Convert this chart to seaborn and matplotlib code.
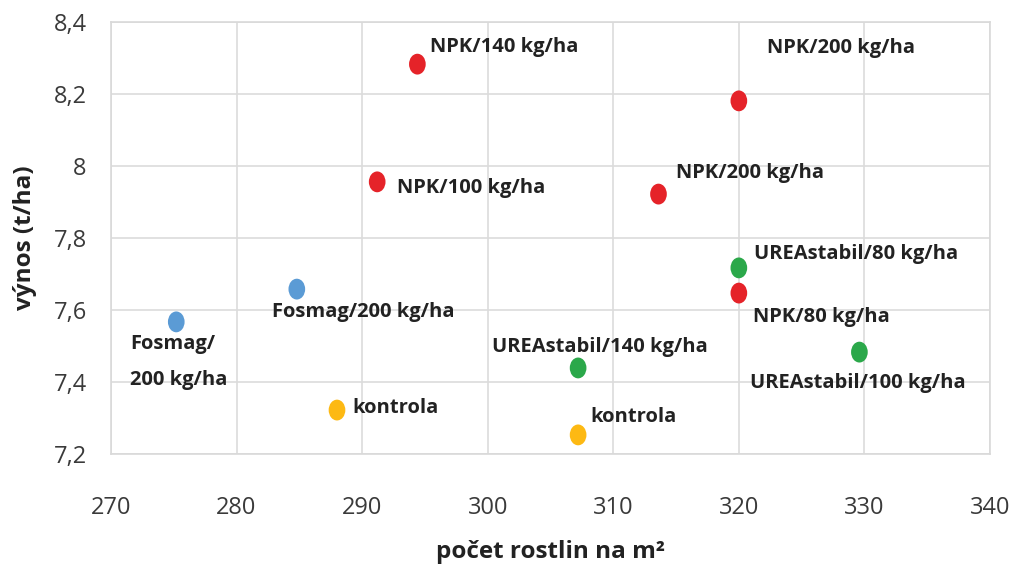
import matplotlib
matplotlib.use("Agg")
import matplotlib.pyplot as plt
from matplotlib.path import Path
from matplotlib.transforms import Affine2D
import numpy as np
import pandas as pd
import seaborn as sns

# ---- data ----
plants = [275.2, 284.8, 288.0, 307.2, 291.2, 294.4, 313.6, 320.0, 320.0, 320.0, 307.2, 329.6]
yields = [7.567, 7.658, 7.322, 7.253, 7.956, 8.283, 7.922, 8.181, 7.647, 7.717, 7.439, 7.483]
groups = ["Fosmag", "Fosmag", "kontrola", "kontrola", "NPK", "NPK", "NPK", "NPK", "NPK",
          "UREAstabil", "UREAstabil", "UREAstabil"]
labels = ["Fosmag/\n200 kg/ha", "Fosmag/200 kg/ha", "kontrola", "kontrola",
          "NPK/100 kg/ha", "NPK/140 kg/ha", "NPK/200 kg/ha", "NPK/200 kg/ha", "NPK/80 kg/ha",
          "UREAstabil/80 kg/ha", "UREAstabil/140 kg/ha", "UREAstabil/100 kg/ha"]
# label offsets (pixels) from each point to the label's left/centre
label_dx = [-46, -25, 15, 12, 20, 13, 18, 28, 14, 15, -86, -109]
label_dy = [-40, -23, 2, 18, -6, 17, 21, 53, -24, 14, 21, -31]

x_ticks = [270, 280, 290, 300, 310, 320, 330, 340]
y_ticks = [7.2, 7.4, 7.6, 7.8, 8.0, 8.2, 8.4]
y_tick_labels = ["7,2", "7,4", "7,6", "7,8", "8", "8,2", "8,4"]

palette = {"Fosmag": "#5B9BD5", "kontrola": "#FDB913", "NPK": "#E52329", "UREAstabil": "#2BA84A"}

df = pd.DataFrame({"x": plants, "y": yields, "g": groups})

sns.set_theme(style="white")
plt.rcParams["font.family"] = ["Open Sans", "DejaVu Sans"]

fig = plt.figure(figsize=(10.18, 5.65), dpi=100)
ax = fig.add_axes([0.109, 0.1965, 0.8635, 0.7645])

circ = Path.unit_circle()
ellipse = Path(Affine2D().scale(0.8, 1.0).transform(circ.vertices), circ.codes)

sns.scatterplot(data=df, x="x", y="y", hue="g", palette=palette, marker=ellipse,
                s=225, linewidth=0, legend=False, ax=ax, zorder=3)

for xv, yv, lab, dx, dy in zip(plants, yields, labels, label_dx, label_dy):
    ax.annotate(lab, (xv, yv), xytext=(dx, dy), textcoords="offset pixels",
                ha="left", va="center", fontsize=14.5, fontweight="bold",
                color="#222222", linespacing=2.1, zorder=4)

ax.set_xlim(270, 340)
ax.set_ylim(7.2, 8.4)
ax.set_xticks(x_ticks)
ax.set_yticks(y_ticks)
ax.set_yticklabels(y_tick_labels)
ax.tick_params(axis="both", length=0, labelsize=17, colors="#3A3A3A")
ax.tick_params(axis="x", pad=30)
ax.tick_params(axis="y", pad=17.5)
ax.grid(True, color="#DCDCDC", linewidth=1.2)
ax.set_axisbelow(True)
for s in ax.spines.values():
    s.set_color("#D9D9D9")
    s.set_linewidth(1.2)

ax.set_xlabel("počet rostlin na m²", fontsize=17.5, fontweight="bold", color="#222222", labelpad=14.5)
ax.set_ylabel("výnos (t/ha)", fontsize=17.5, fontweight="bold", color="#222222", labelpad=12)

fig.savefig("out.png", dpi=100)
